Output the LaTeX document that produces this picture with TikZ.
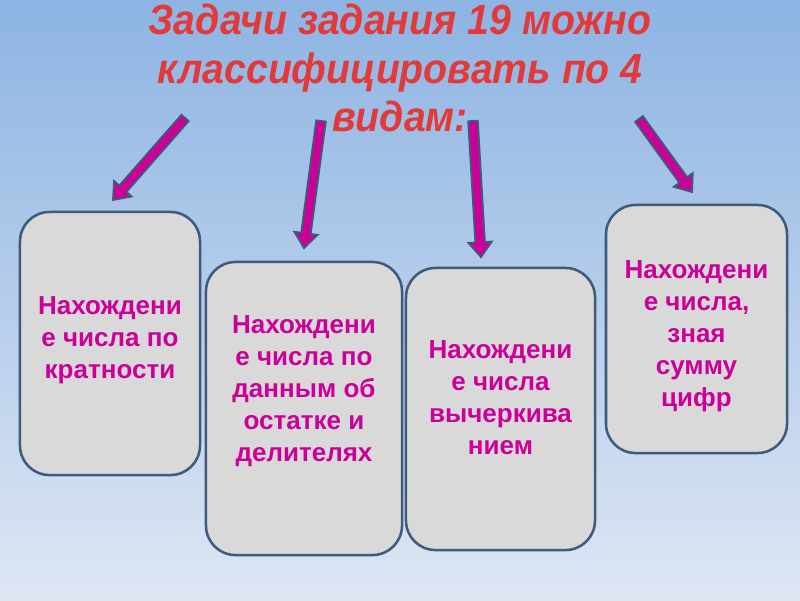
\documentclass[tikz,border=0pt]{standalone}
\usepackage{fontspec}
\setmainfont{Liberation Sans}
\newfontfamily\titlefont[FakeStretch=0.93]{Liberation Sans}
\usetikzlibrary{calc}

\definecolor{bgtop}{RGB}{141,180,227}
\definecolor{bgbot}{RGB}{222,230,243}
\definecolor{boxfill}{RGB}{217,217,217}
\definecolor{boxedge}{RGB}{62,90,125}
\definecolor{magent}{RGB}{204,0,153}
\definecolor{titlered}{RGB}{226,58,58}

\tikzset{
 box/.style={draw=boxedge, fill=boxfill, line width=1.8pt, rounded corners=21pt, inner sep=0pt},
 boxtext/.style={text=magent, font=\fontsize{18.5}{22.7}\selectfont\bfseries, align=center},
 blockarrow/.style={fill=magent, draw=boxedge, line width=1.3pt, line join=miter},
}

% block arrow from #1 (tail) to #2 (tip)
\newcommand\blockarrow[2]{%
 \filldraw[blockarrow] let \p1=($(#2)-(#1)$), \n1={atan2(\y1,\x1)}, \n2={veclen(\x1,\y1)-10.5} in
  ($(#1)+(\n1+90:3.4pt)$) -- ($(#1)+(\n1:\n2)+(\n1+90:3.4pt)$)
  -- ($(#1)+(\n1:\n2)+(\n1+90:8.3pt)$) -- (#2)
  -- ($(#1)+(\n1:\n2)+(\n1-90:8.3pt)$) -- ($(#1)+(\n1:\n2)+(\n1-90:3.4pt)$)
  -- ($(#1)+(\n1-90:3.4pt)$) -- cycle;
}

\begin{document}
\begin{tikzpicture}[x=0.025cm, y=-0.025cm]
 \path[use as bounding box, top color=bgtop, bottom color=bgbot] (0,0) rectangle (800,600);

 \node[font=\titlefont\fontsize{30}{34.5}\selectfont\bfseries\itshape, text=titlered, align=center]
  (title) at (400,68) {Задачи задания 19 можно\\классифицировать по 4\\видам:};

 % boxes
 \node[box, minimum width=4.5cm, minimum height=6.575cm] (b1) at (110,343.5) {};
 \node[box, minimum width=4.9cm, minimum height=7.325cm] (b2) at (304,408.5) {};
 \node[box, minimum width=4.725cm, minimum height=7.05cm] (b3) at (500.5,409) {};
 \node[box, minimum width=4.525cm, minimum height=6.2cm] (b4) at (696.5,329) {};

 \node[boxtext] (t1) at (110,340) {Нахождени\\е числа по\\кратности};
 \node[boxtext] (t2) at (304,391) {Нахождени\\е числа по\\данным об\\остатке и\\делителях};
 \node[boxtext] (t3) at (500.5,398) {Нахождени\\е числа\\вычеркива\\нием};
 \node[boxtext] (t4) at (696.5,336) {Нахождени\\е числа,\\зная\\сумму\\цифр};

 % arrows
 \coordinate (s1) at (185,118); \coordinate (e1) at (113,200);
 \coordinate (s2) at (321,121); \coordinate (e2) at (304,248);
 \coordinate (s3) at (473,121); \coordinate (e3) at (481,257);
 \coordinate (s4) at (639,119); \coordinate (e4) at (692,192);
 \blockarrow{s1}{e1}
 \blockarrow{s2}{e2}
 \blockarrow{s3}{e3}
 \blockarrow{s4}{e4}
\end{tikzpicture}
\end{document}
